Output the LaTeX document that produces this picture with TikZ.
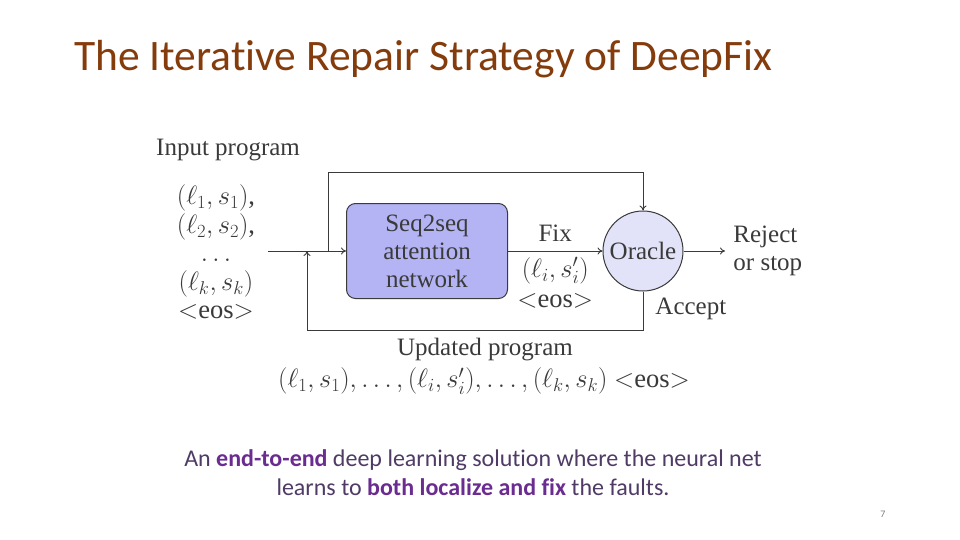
\RequirePackage{fix-cm}
\documentclass[tikz,border=0pt]{standalone}
\usepackage{fontspec}
\setmainfont{Liberation Serif}
\newfontfamily\slidefont[Ligatures=NoCommon]{Carlito}
\usetikzlibrary{positioning,arrows.meta}
\definecolor{titleBrown}{HTML}{843C0C}
\definecolor{capPurple}{HTML}{4F3B66}
\definecolor{capBold}{HTML}{6B2C91}
\definecolor{lineGray}{HTML}{3A3A3A}
\definecolor{netFill}{HTML}{B4B4F4}
\definecolor{oracleFill}{HTML}{E2E2F8}

\begin{document}
\begin{tikzpicture}[x=1pt,y=-1pt,
          font=\fontsize{25}{28}\selectfont, text=lineGray,
          net/.style={draw=lineGray,line width=1pt,rounded corners=9pt,fill=netFill,
                      minimum width=161pt,minimum height=95pt,align=center,inner sep=0pt},
          oracle/.style={circle,draw=lineGray,line width=1pt,fill=oracleFill,
                      minimum size=80pt,inner sep=0pt},
          arr/.style={-{To[length=5pt,width=7pt]},line width=0.9pt,lineGray},
          lbl/.style={align=center,inner sep=0pt},
          mathlbl/.style={lbl,font=\fontsize{26.5}{28.5}\selectfont}]
        \useasboundingbox[fill=white] (0,0) rectangle (960,540);
        \node[anchor=west,inner sep=0pt,font=\slidefont\fontsize{43.5}{46}\selectfont,text=titleBrown]
              (title) at (74,59) {The Iterative Repair Strategy of DeepFix};
        \node[lbl,anchor=west] (inlbl) at (156,150) {Input program};
        \node[mathlbl] (inseq) at (216,252) {$(\ell_1, s_1)$,\\$(\ell_2, s_2)$,\\$\dots$\\$(\ell_k, s_k)$\\$<$eos$>$};
        \node[net] (net) at (427,251) {Seq2seq\\attention\\network};
        \node[oracle] (oracle) at (643,251) {Oracle};
        \coordinate (in) at (268,251);
        \coordinate (split) at (328,251);
        \coordinate (join) at (307,251);
        \coordinate (topbend) at (643,172);
        \coordinate (botbend) at (643,330);
        \coordinate (out) at (725,251);
        \draw[arr] (in) -- (net);
        \draw[arr] (split) |- (topbend) -- (oracle.north);
        \draw[arr] (net) -- node[lbl,above=9pt]{Fix}
              node[mathlbl,below=6pt] (fixpair) {$(\ell_i, s'_i)$} (oracle);
        \node[mathlbl,below=9pt of fixpair] (fixeos) {$<$eos$>$};
        \draw[arr] (oracle) -- (out) node[lbl,right=8pt,align=left]{Reject\\or stop};
        \draw[arr] (oracle.south) -- node[lbl,right=12pt,pos=0.45]{Accept} (botbend) -| (join);
        \node[lbl] (updlbl) at (485,350) {Updated program};
        \node[mathlbl] (updseq) at (484,381) {$(\ell_1, s_1), \dots, (\ell_i, s'_i), \dots, (\ell_k, s_k)$ $<$eos$>$};
        \node[lbl,font=\slidefont\fontsize{24}{29}\selectfont,text=capPurple] (caption) at (473,473)
              {An \textbf{\color{capBold}end-to-end} deep learning solution where the neural net\\
               learns to \textbf{\color{capBold}both localize and fix} the faults.};
        \node[lbl,font=\slidefont\fontsize{10}{12}\selectfont,text=gray] (page) at (883,514) {7};
      \end{tikzpicture}
\end{document}
